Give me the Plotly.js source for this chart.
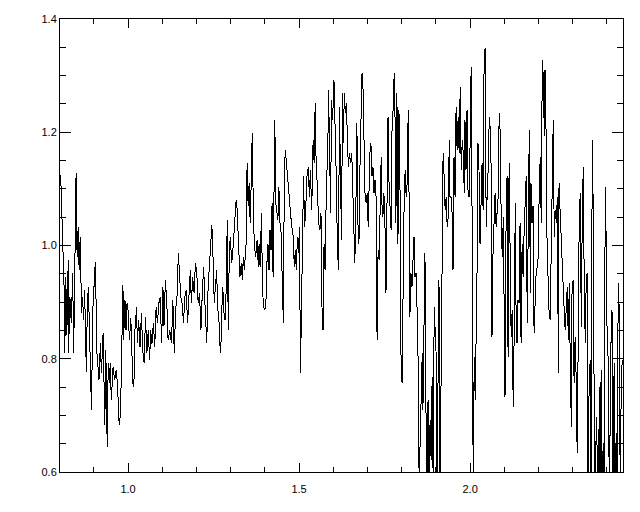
<!DOCTYPE html>
<html>
<head>
<meta charset="utf-8">
<script src="https://cdn.plot.ly/plotly-3.0.1.min.js"></script>
<style>html,body{margin:0;padding:0;background:#fff;}#chart{width:640px;height:512px;}
#chart path.js-line{shape-rendering:crispEdges;}
#chart path.xtick, #chart path.ytick, #chart path.crisp{shape-rendering:crispEdges;}</style>
</head>
<body>
<div id="chart"></div>
<script>
// Segment 1 (0.80 - 1.22 micron)
var wave1 = [0.803,0.805,0.809,0.813,0.815,0.818,0.821,0.825,0.826,0.830,
0.834,0.838,0.841,0.846,0.848,0.851,0.854,0.857,0.860,0.864,
0.867,0.870,0.873,0.878,0.881,0.884,0.887,0.893,0.897,0.901,
0.904,0.906,0.909,0.915,0.919,0.922,0.927,0.932,0.935,0.939,
0.942,0.945,0.948,0.951,0.956,0.961,0.965,0.969,0.974,0.978,
0.981,0.985,0.987,0.991,0.994,0.997,1.000,1.004,1.008,1.011,
1.014,1.017,1.020,1.025,1.027,1.031,1.035,1.039,1.043,1.047,
1.051,1.055,1.059,1.063,1.066,1.070,1.074,1.078,1.082,1.086,
1.090,1.094,1.098,1.102,1.105,1.109,1.113,1.117,1.122,1.127,
1.131,1.135,1.139,1.143,1.147,1.151,1.154,1.158,1.162,1.166,
1.170,1.174,1.178,1.182,1.185,1.189,1.193,1.197,1.201,1.205,
1.209,1.213,1.217,1.221];
var flux1 = [1.124,1.085,0.974,0.926,0.81,0.944,0.842,0.974,0.81,0.909,
0.863,0.951,0.81,1.098,1.128,0.979,1.032,0.956,1.015,0.88,
0.909,0.868,0.921,0.776,0.898,0.926,0.85,0.709,0.886,0.951,
0.97,0.916,0.81,0.762,0.827,0.774,0.845,0.683,0.815,0.644,
0.792,0.757,0.792,0.727,0.785,0.762,0.78,0.757,0.683,0.704,
0.827,0.93,0.833,0.903,0.85,0.898,0.886,0.833,0.872,0.827,
0.757,0.75,0.85,0.891,0.827,0.868,0.82,0.88,0.815,0.792,
0.874,0.81,0.85,0.797,0.85,0.827,0.863,0.82,0.891,0.863,
0.898,0.909,0.827,0.926,0.857,0.939,0.903,0.833,0.85,0.827,
0.903,0.81,0.886,0.909,0.986,0.944,0.909,0.898,0.863,0.909,
0.921,0.863,0.909,0.956,0.898,0.944,0.916,0.969,0.951,0.898,
0.916,0.85,0.916,0.962];

// Segment 2 (1.22 - 1.63 micron)
var wave2 = [1.224,1.227,1.230,1.234,1.238,1.242,1.245,1.249,1.252,1.256,
1.259,1.262,1.265,1.268,1.271,1.274,1.277,1.281,1.284,1.287,
1.290,1.293,1.296,1.299,1.303,1.305,1.309,1.312,1.316,1.319,
1.323,1.327,1.331,1.334,1.337,1.340,1.343,1.345,1.348,1.351,
1.354,1.357,1.360,1.363,1.366,1.369,1.373,1.377,1.381,1.383,
1.386,1.390,1.393,1.396,1.400,1.403,1.406,1.409,1.412,1.415,
1.418,1.421,1.424,1.426,1.429,1.432,1.435,1.438,1.441,1.444,
1.447,1.451,1.454,1.457,1.460,1.463,1.466,1.470,1.473,1.476,
1.479,1.483,1.486,1.489,1.492,1.495,1.498,1.501,1.504,1.507,
1.510,1.513,1.516,1.519,1.523,1.527,1.530,1.533,1.537,1.541,
1.544,1.547,1.550,1.553,1.557,1.561,1.564,1.567,1.570,1.573,
1.576,1.580,1.584,1.586,1.589,1.592,1.595,1.598,1.602,1.605,
1.608,1.612,1.615,1.618,1.621,1.624,1.627,1.630];
var flux2 = [0.909,0.856,0.827,0.926,0.969,1.009,1.036,0.969,0.898,0.933,
0.956,0.886,0.880,0.827,0.81,0.886,0.926,0.874,0.868,0.926,
1.045,0.85,0.992,1.015,0.969,0.979,1.015,1.05,1.08,1.063,
1.003,0.944,0.969,0.939,0.979,0.956,0.986,1.003,1.146,1.07,
1.11,1.04,1.11,1.199,1.075,1.003,0.979,1.009,0.962,1.003,
0.962,1.057,0.926,0.891,0.886,0.898,0.969,1.003,0.956,1.027,
0.992,1.075,0.944,1.05,1.222,1.075,1.057,1.045,1.103,1.04,
1.027,0.898,0.863,1.139,1.168,1.146,1.122,1.103,1.063,1.05,
1.033,1.015,0.962,0.992,0.956,1.015,0.986,1.033,0.774,0.903,
1.04,1.122,1.033,1.057,1.122,1.139,1.086,1.133,1.063,1.186,
1.146,1.252,1.139,1.11,1.04,1.027,1.057,0.891,0.85,1.003,
0.956,1.11,1.168,1.275,1.181,1.057,1.257,1.222,1.292,1.181,
1.139,1.003,0.956,1.245,1.133,1.009,1.269,1.181];

// Segment 3 (1.63 - 2.01 micron)
var wave3 = [1.632,1.635,1.638,1.641,1.644,1.647,1.650,1.654,1.658,1.661,
1.663,1.666,1.669,1.672,1.675,1.678,1.681,1.684,1.687,1.690,
1.693,1.696,1.699,1.702,1.704,1.707,1.710,1.713,1.716,1.719,
1.722,1.725,1.728,1.731,1.734,1.737,1.740,1.742,1.745,1.748,
1.751,1.754,1.757,1.760,1.763,1.766,1.769,1.772,1.775,1.778,
1.781,1.783,1.786,1.789,1.792,1.795,1.798,1.801,1.804,1.807,
1.810,1.813,1.816,1.819,1.822,1.824,1.827,1.830,1.833,1.836,
1.839,1.842,1.845,1.848,1.851,1.854,1.857,1.860,1.862,1.865,
1.868,1.871,1.874,1.877,1.880,1.883,1.886,1.889,1.892,1.895,
1.898,1.901,1.903,1.906,1.909,1.912,1.915,1.918,1.921,1.924,
1.927,1.930,1.933,1.936,1.939,1.941,1.944,1.947,1.950,1.953,
1.956,1.959,1.962,1.965,1.968,1.971,1.974,1.977,1.980,1.983,
1.985,1.988,1.991,1.994,1.997,2.000,2.003,2.006,2.009,2.012];
var flux3 = [1.269,1.234,1.252,1.168,1.139,1.163,1.146,1.163,1.063,1.003,
0.969,1.063,1.216,1.04,1.003,1.139,1.263,1.304,1.275,1.139,
1.086,1.075,1.092,1.033,1.086,1.163,1.181,1.122,1.139,1.092,
1.116,1.086,0.833,0.992,0.974,1.092,1.157,1.075,1.05,1.092,
1.04,0.916,1.086,1.227,1.11,1.063,1.027,1.222,1.239,1.304,
1.21,1.04,1.269,1.003,1.239,1.103,0.803,0.757,1.003,1.07,
1.133,1.086,1.11,1.239,1.057,0.874,0.951,0.926,0.974,1.015,
0.944,0.951,0.886,0.797,0.58,0.651,0.75,0.81,0.709,0.827,
0.986,0.709,0.55,0.727,0.55,0.691,0.621,0.768,0.58,0.891,
0.85,0.803,0.55,0.727,0.939,0.55,0.797,1.003,1.163,1.122,
1.063,1.086,1.033,1.05,1.186,1.086,1.086,1.063,0.956,1.157,
1.086,1.245,1.168,1.227,1.163,1.28,1.133,1.186,1.163,1.092,
1.222,1.133,1.239,1.092,1.086,1.181,1.315,1.027,0.57,0.803];

// Segment 4 (2.01 - 2.45 micron)
var wave4 = [2.015,2.018,2.020,2.023,2.026,2.029,2.032,2.035,2.038,2.041,
2.044,2.047,2.050,2.053,2.056,2.059,2.061,2.064,2.067,2.070,
2.073,2.076,2.079,2.082,2.085,2.088,2.091,2.094,2.097,2.099,
2.102,2.105,2.108,2.111,2.114,2.117,2.120,2.123,2.126,2.129,
2.132,2.135,2.138,2.140,2.143,2.146,2.149,2.152,2.155,2.158,
2.161,2.164,2.167,2.170,2.173,2.176,2.178,2.181,2.184,2.187,
2.190,2.193,2.196,2.199,2.202,2.205,2.208,2.211,2.214,2.217,
2.219,2.222,2.225,2.228,2.231,2.234,2.237,2.240,2.243,2.246,
2.249,2.252,2.255,2.258,2.260,2.263,2.266,2.269,2.272,2.275,
2.278,2.281,2.284,2.287,2.290,2.293,2.296,2.298,2.301,2.304,
2.307,2.310,2.313,2.316,2.319,2.322,2.325,2.328,2.331,2.334,
2.337,2.339,2.342,2.345,2.348,2.351,2.354,2.357,2.360,2.363,
2.366,2.369,2.372,2.375,2.378,2.380,2.383,2.386,2.389,2.392,
2.395,2.398,2.401,2.404,2.407,2.410,2.413,2.416,2.418,2.421,
2.424,2.427,2.430,2.433,2.436,2.439,2.442,2.445];
var flux4 = [0.727,0.856,0.933,1.181,1.133,1.003,1.075,1.146,1.063,1.333,
1.349,1.033,1.092,1.139,1.227,1.204,1.157,0.838,0.986,1.027,
1.092,1.033,1.063,1.086,1.234,1.199,1.04,0.979,1.05,0.944,
0.732,1.027,1.122,0.803,1.146,0.986,0.838,0.886,0.714,0.85,
1.075,0.833,0.827,0.903,0.898,1.04,0.827,1.003,0.944,1.027,
1.092,1.122,0.863,1.092,1.204,0.916,1.11,1.04,1.07,0.845,
0.909,0.951,0.962,0.979,1.092,1.157,1.04,1.327,1.298,1.193,
1.31,1.204,1.003,0.944,0.88,0.868,1.015,1.146,1.222,1.015,
1.063,1.04,1.086,0.774,1.11,1.063,1.015,0.956,0.939,0.886,
0.85,0.909,0.926,0.833,0.933,0.78,0.679,0.921,0.939,0.757,
0.838,0.768,0.633,0.827,1.05,1.092,0.856,1.063,1.139,0.898,
0.827,0.921,0.951,0.55,0.757,0.797,0.55,1.186,1.063,0.674,
0.55,0.697,0.58,0.55,0.75,0.55,0.78,0.55,0.651,0.55,
1.103,1.003,0.81,0.803,0.55,0.709,0.886,0.88,0.55,0.792,
0.55,0.668,0.55,0.933,0.886,0.55,0.768,0.797];

var wavelength = wave1.concat(wave2, wave3, wave4);
var flux = flux1.concat(flux2, flux3, flux4);

var xTickVals = [1.0, 1.5, 2.0];
var xTickText = ['1.0', '1.5', '2.0'];
var yTickVals = [0.6, 0.8, 1.0, 1.2, 1.4];
var yTickText = ['0.6', '0.8', '1.0', '1.2', '1.4'];

var trace = {
  x: wavelength, y: flux, type: 'scatter', mode: 'lines',
  line: {color: '#000000', width: 1}, hoverinfo: 'none'
};

var font = {family: 'Liberation Sans, Arial, sans-serif', size: 11, color: '#000'};

var layout = {
  width: 640, height: 512,
  margin: {l: 60, r: 17, t: 19, b: 40, pad: 0},
  paper_bgcolor: '#fff', plot_bgcolor: '#fff',
  showlegend: false,
  font: font,
  xaxis: {
    range: [0.801, 2.447], showgrid: false, zeroline: false,
    showline: true, linecolor: '#000', linewidth: 1, mirror: 'ticks',
    ticks: 'inside', ticklen: 9, tickwidth: 1, tickcolor: '#000',
    tickvals: xTickVals, ticktext: xTickText, tickfont: font,
    ticklabelstandoff: 7,
    minor: {dtick: 0.1, tick0: 0, ticks: 'inside', ticklen: 5, tickwidth: 1, tickcolor: '#000', showgrid: false}
  },
  yaxis: {
    range: [0.6, 1.4], showgrid: false, zeroline: false,
    showline: true, linecolor: '#000', linewidth: 1, mirror: 'ticks',
    ticks: 'inside', ticklen: 11, tickwidth: 1, tickcolor: '#000',
    tickvals: yTickVals, ticktext: yTickText, tickfont: font,
    ticklabelstandoff: 0,
    minor: {dtick: 0.05, tick0: 0, ticks: 'inside', ticklen: 6, tickwidth: 1, tickcolor: '#000', showgrid: false}
  }
};

Plotly.newPlot('chart', [trace], layout, {displayModeBar: false, staticPlot: true});
</script>
</body>
</html>
